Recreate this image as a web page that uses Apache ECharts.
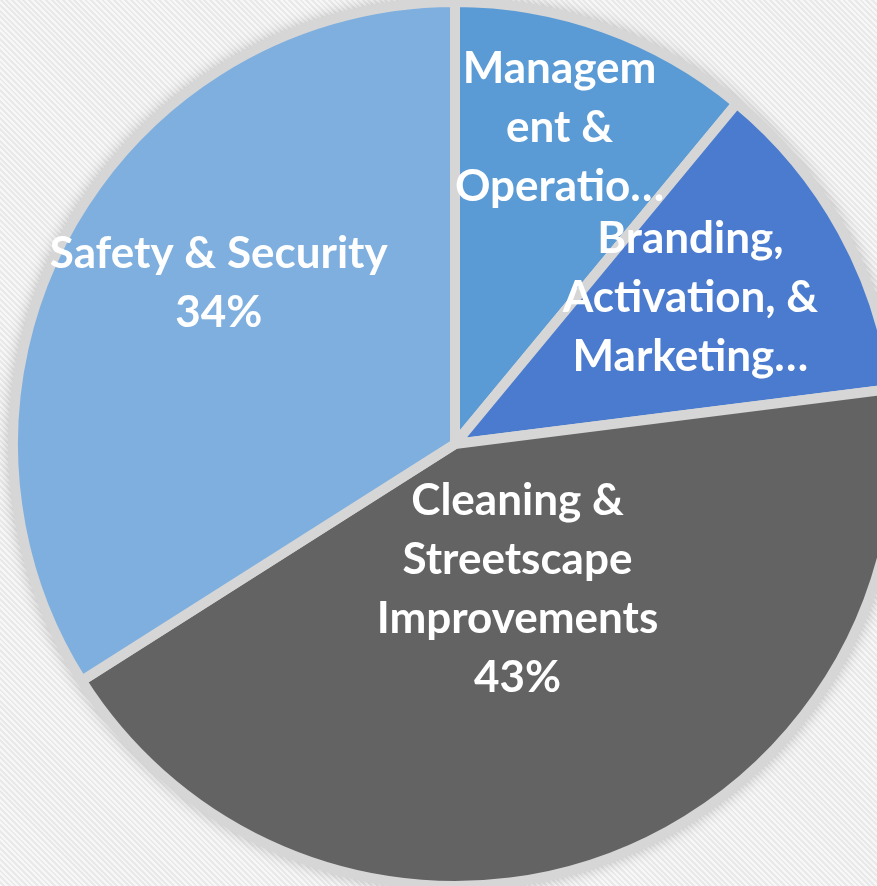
<!DOCTYPE html>
<html>
<head>
<meta charset="utf-8">
<script src="https://cdn.jsdelivr.net/npm/echarts@6/dist/echarts.min.js"></script>
<style>
html,body{margin:0;padding:0;}
body{background:repeating-linear-gradient(45deg,#f7f7f7 0px,#f7f7f7 2px,#e9e9e9 2px,#e9e9e9 4px);}
#chart{width:877px;height:886px;}
</style>
</head>
<body>
<div id="chart"></div>
<script>
// slices, clockwise from 12 o'clock
const categories = ['Management & Operations', 'Branding, Activation, & Marketing', 'Cleaning & Streetscape Improvements', 'Safety & Security'];
const shares = [11, 12, 43, 34];
const labelTexts = ['Managem\nent &\nOperatio…', 'Branding,\nActivation, &\nMarketing…', 'Cleaning &\nStreetscape\nImprovements\n43%', 'Safety & Security\n34%'];
const colors = ['#5b9bd5', '#4a7bce', '#636363', '#7eafdf'];

// label placement: [distance from centre in px, angle shift in degrees]
const labelPlace = [[333, -1.5], [277, -3], [158, -3.5], [286, 5.5]];

const cx = 455, cy = 444, R = 442;

const chart = echarts.init(document.getElementById('chart'));

const total = shares.reduce((a, b) => a + b, 0);
let acc = 0;
const midAngles = shares.map(v => { const m = (acc + v / 2) / total * 360; acc += v; return m; });

chart.setOption({
    color: colors,
    animation: false,
    series: [
        {
            type: 'pie',
            silent: true,
            center: [cx, cy],
            radius: R + 2,
            label: {show: false},
            itemStyle: {color: '#d6d6d6', shadowBlur: 16, shadowColor: 'rgba(0,0,0,0.3)'},
            data: [{value: 1}]
        },
        {
            type: 'pie',
            center: [cx, cy],
            radius: R,
            startAngle: 90,
            clockwise: true,
            itemStyle: {borderColor: '#d6d6d6', borderWidth: 10},
            label: {
                show: true,
                position: 'inside',
                formatter: p => labelTexts[p.dataIndex],
                color: '#fff',
                fontFamily: 'Lato',
                fontWeight: 'bold',
                fontSize: 44,
                lineHeight: 59,
                align: 'center'
            },
            labelLayout: function (params) {
                const i = params.dataIndex;
                const a = (midAngles[i] + labelPlace[i][1]) * Math.PI / 180;
                const d = labelPlace[i][0];
                return {
                    x: cx + d * Math.sin(a),
                    y: cy - d * Math.cos(a),
                    align: 'center',
                    verticalAlign: 'middle'
                };
            },
            data: categories.map((c, i) => ({name: c, value: shares[i]}))
        }
    ]
});
</script>
</body>
</html>
